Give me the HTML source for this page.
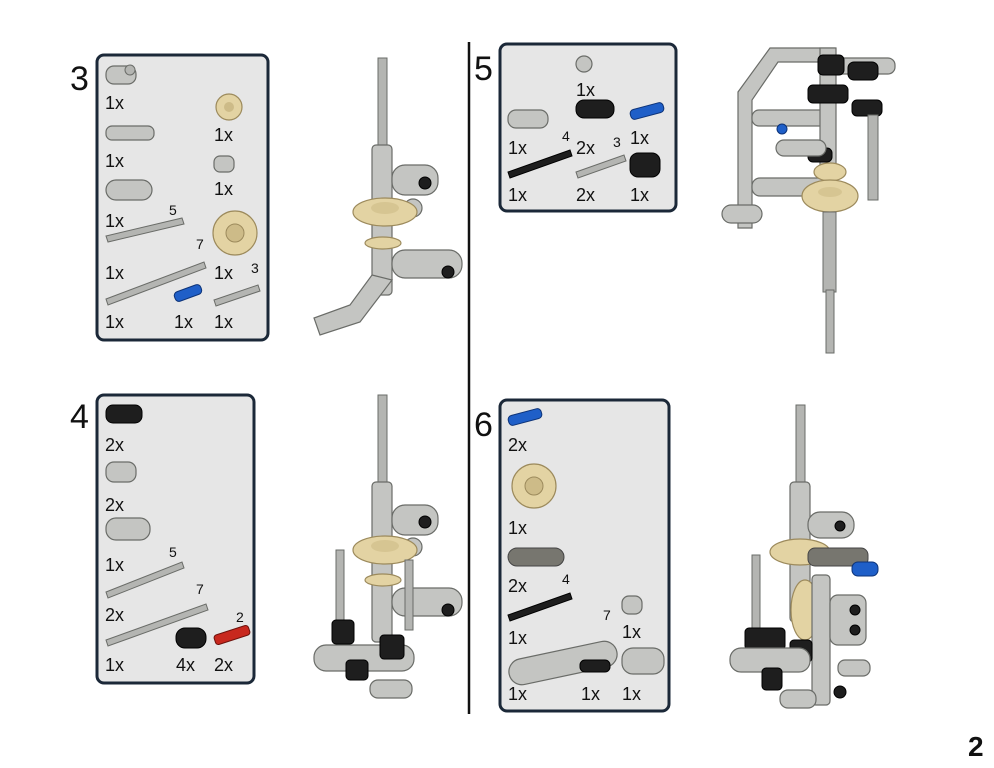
<!DOCTYPE html>
<html><head><meta charset="utf-8"><style>
html,body{margin:0;padding:0;background:#fff;width:994px;height:768px;overflow:hidden}
svg{display:block}
text{font-family:"Liberation Sans",sans-serif;fill:#111}
.q{font-size:18px}
.n{font-size:14px}
.s{font-size:34px}
.g{fill:#c4c5c2;stroke:#6a6c68;stroke-width:1.2}
.a{fill:#b4b5b2;stroke:#6a6c68;stroke-width:1}
.t{fill:#e3d3a3;stroke:#9c8a5c;stroke-width:1.2}
.k{fill:#1e1e1e;stroke:#000;stroke-width:1}
.b{fill:#1f5fc8;stroke:#0d3378;stroke-width:1}
.r{fill:#c8281e;stroke:#6e120c;stroke-width:1}
.box{fill:#e6e6e6;stroke:#1b2838;stroke-width:3}
</style></head><body>
<svg width="994" height="768" viewBox="0 0 994 768">
<!-- boxes -->
<rect class="box" x="97" y="55" width="171" height="285" rx="7"/>
<rect class="box" x="97" y="395" width="157" height="288" rx="7"/>
<rect class="box" x="500" y="44" width="176" height="167" rx="7"/>
<rect class="box" x="500" y="400" width="169" height="311" rx="7"/>
<line x1="469" y1="42" x2="469" y2="714" stroke="#111" stroke-width="2.5"/>

<text class="s" x="70" y="90">3</text>
<text class="s" x="70" y="428">4</text>
<text class="s" x="474" y="80">5</text>
<text class="s" x="474" y="436">6</text>
<text x="968" y="756" style="font-size:28px;font-weight:bold">2</text>

<!-- box 3 parts -->
<rect class="g" x="106" y="66" width="30" height="18" rx="8"/><circle cx="130" cy="70" r="5" class="a"/>
<circle class="t" cx="229" cy="107" r="13"/><circle cx="229" cy="107" r="5" fill="#cdbb88"/>
<rect class="g" x="106" y="126" width="48" height="14" rx="6"/>
<rect class="g" x="214" y="156" width="20" height="16" rx="6"/>
<rect class="g" x="106" y="180" width="46" height="20" rx="10"/>
<polygon class="a" points="106,236 182,218 184,224 108,242"/>
<circle class="t" cx="235" cy="233" r="22"/><circle cx="235" cy="233" r="9" fill="#cdbb88" stroke="#9c8a5c"/>
<polygon class="a" points="106,299 204,262 206,268 108,305"/>
<rect class="b" x="174" y="288" width="28" height="10" rx="4" transform="rotate(-20 188 293)"/>
<polygon class="a" points="214,300 258,285 260,291 216,306"/>
<g class="q">
<text x="105" y="109">1x</text><text x="214" y="141">1x</text>
<text x="105" y="167">1x</text><text x="214" y="195">1x</text>
<text x="105" y="227">1x</text><text x="214" y="279">1x</text>
<text x="105" y="279">1x</text>
<text x="105" y="328">1x</text><text x="174" y="328">1x</text><text x="214" y="328">1x</text>
</g>
<g class="n"><text x="169" y="215">5</text><text x="196" y="249">7</text><text x="251" y="273">3</text></g>

<!-- box 4 parts -->
<rect class="k" x="106" y="405" width="36" height="18" rx="7"/>
<rect class="g" x="106" y="462" width="30" height="20" rx="8"/>
<rect class="g" x="106" y="518" width="44" height="22" rx="10"/>
<polygon class="a" points="106,592 182,562 184,568 108,598"/>
<polygon class="a" points="106,640 206,604 208,610 108,646"/>
<rect class="k" x="176" y="628" width="30" height="20" rx="9"/>
<rect class="r" x="214" y="630" width="36" height="10" rx="3" transform="rotate(-18 232 635)"/>
<g class="q">
<text x="105" y="451">2x</text><text x="105" y="511">2x</text>
<text x="105" y="571">1x</text><text x="105" y="621">2x</text>
<text x="105" y="671">1x</text><text x="176" y="671">4x</text><text x="214" y="671">2x</text>
</g>
<g class="n"><text x="169" y="557">5</text><text x="196" y="594">7</text><text x="236" y="622">2</text></g>

<!-- box 5 parts -->
<circle class="g" cx="584" cy="64" r="8"/>
<rect class="g" x="508" y="110" width="40" height="18" rx="8"/>
<rect class="k" x="576" y="100" width="38" height="18" rx="8"/>
<rect class="b" x="630" y="106" width="34" height="10" rx="4" transform="rotate(-15 647 111)"/>
<polygon class="k" points="508,172 570,150 572,156 510,178"/>
<polygon class="a" points="576,172 624,155 626,161 578,178"/>
<rect class="k" x="630" y="153" width="30" height="24" rx="8"/>
<g class="q">
<text x="576" y="96">1x</text><text x="508" y="154">1x</text><text x="576" y="154">2x</text><text x="630" y="144">1x</text>
<text x="508" y="201">1x</text><text x="576" y="201">2x</text><text x="630" y="201">1x</text>
</g>
<g class="n"><text x="562" y="141">4</text><text x="613" y="147">3</text></g>

<!-- box 6 parts -->
<rect class="b" x="508" y="412" width="34" height="10" rx="4" transform="rotate(-15 525 417)"/>
<circle class="t" cx="534" cy="486" r="22"/><circle cx="534" cy="486" r="9" fill="#cdbb88" stroke="#9c8a5c"/>
<rect x="508" y="548" width="56" height="18" rx="9" fill="#77766f" stroke="#444"/>
<polygon class="k" points="508,615 570,593 572,599 510,621"/>
<rect class="g" x="622" y="596" width="20" height="18" rx="7"/>
<rect class="g" x="508" y="650" width="110" height="26" rx="13" transform="rotate(-12 563 663)"/>
<rect class="k" x="580" y="660" width="30" height="12" rx="5"/>
<rect class="g" x="622" y="648" width="42" height="26" rx="11"/>
<g class="q">
<text x="508" y="451">2x</text><text x="508" y="534">1x</text><text x="508" y="592">2x</text>
<text x="508" y="644">1x</text><text x="622" y="638">1x</text>
<text x="508" y="700">1x</text><text x="581" y="700">1x</text><text x="622" y="700">1x</text>
</g>
<g class="n"><text x="562" y="584">4</text><text x="603" y="620">7</text></g>

<!-- model 3 -->
<rect class="a" x="378" y="58" width="9" height="90"/>
<rect class="g" x="372" y="145" width="20" height="150" rx="4"/>
<rect class="g" x="392" y="165" width="46" height="30" rx="13"/>
<circle class="k" cx="425" cy="183" r="6"/>
<circle class="g" cx="413" cy="208" r="9"/><text x="408" y="213" style="font-size:12px;fill:#1f5fc8;font-weight:bold">+</text>
<ellipse class="t" cx="385" cy="212" rx="32" ry="14"/><ellipse cx="385" cy="208" rx="14" ry="6" fill="#d6c592"/>
<ellipse class="t" cx="383" cy="243" rx="18" ry="6"/>
<rect class="g" x="392" y="250" width="70" height="28" rx="13"/>
<circle class="k" cx="448" cy="272" r="6"/>
<polygon class="g" points="372,275 392,280 360,322 320,335 314,318 350,305"/>

<!-- model 4 -->
<rect class="a" x="378" y="395" width="9" height="90"/>
<rect class="g" x="372" y="482" width="20" height="160" rx="4"/>
<rect class="g" x="392" y="505" width="46" height="30" rx="13"/>
<circle class="k" cx="425" cy="522" r="6"/>
<circle class="g" cx="413" cy="547" r="9"/>
<ellipse class="t" cx="385" cy="550" rx="32" ry="14"/><ellipse cx="385" cy="546" rx="14" ry="6" fill="#d6c592"/>
<ellipse class="t" cx="383" cy="580" rx="18" ry="6"/>
<rect class="g" x="392" y="588" width="70" height="28" rx="13"/>
<circle class="k" cx="448" cy="610" r="6"/>
<rect class="a" x="336" y="550" width="8" height="80"/>
<rect class="a" x="405" y="560" width="8" height="70"/>
<rect class="g" x="314" y="645" width="100" height="26" rx="12"/>
<rect class="k" x="332" y="620" width="22" height="24" rx="4"/>
<rect class="k" x="380" y="635" width="24" height="24" rx="4"/>
<rect class="k" x="346" y="660" width="22" height="20" rx="4"/>
<rect class="g" x="370" y="680" width="42" height="18" rx="8"/>

<!-- model 5 -->
<polygon class="g" points="770,48 835,48 835,62 778,62 752,100 752,228 738,228 738,92"/>
<rect class="g" x="752" y="110" width="80" height="16" rx="7"/>
<rect class="g" x="752" y="178" width="80" height="18" rx="8"/>
<rect class="g" x="722" y="205" width="40" height="18" rx="9"/>
<rect class="g" x="820" y="48" width="16" height="130"/>
<rect class="g" x="835" y="58" width="60" height="16" rx="7"/>
<rect class="k" x="818" y="55" width="26" height="20" rx="5"/>
<rect class="k" x="848" y="62" width="30" height="18" rx="6"/>
<rect class="k" x="808" y="85" width="40" height="18" rx="5"/>
<rect class="k" x="852" y="100" width="30" height="16" rx="5"/>
<rect class="k" x="808" y="148" width="24" height="14" rx="5"/>
<rect class="a" x="868" y="115" width="10" height="85"/>
<circle class="b" cx="782" cy="129" r="5"/>
<rect class="g" x="776" y="140" width="50" height="16" rx="8"/>
<ellipse class="t" cx="830" cy="172" rx="16" ry="9"/>
<ellipse class="t" cx="830" cy="196" rx="28" ry="16"/><ellipse cx="830" cy="192" rx="12" ry="5" fill="#d6c592"/>
<rect class="a" x="823" y="212" width="13" height="80"/>
<rect class="a" x="826" y="290" width="8" height="63"/>

<!-- model 6 -->
<rect class="a" x="796" y="405" width="9" height="80"/>
<rect class="g" x="790" y="482" width="20" height="140" rx="4"/>
<rect class="g" x="808" y="512" width="46" height="26" rx="12"/>
<circle class="k" cx="840" cy="526" r="5"/>
<ellipse class="t" cx="800" cy="552" rx="30" ry="13"/>
<rect x="808" y="548" width="60" height="18" rx="7" fill="#77766f" stroke="#444"/>
<rect class="b" x="852" y="562" width="26" height="14" rx="6"/>
<ellipse class="t" cx="805" cy="610" rx="14" ry="30"/>
<rect class="a" x="752" y="555" width="8" height="80"/>
<rect class="g" x="812" y="575" width="18" height="130" rx="4"/>
<rect class="g" x="830" y="595" width="36" height="50" rx="8"/>
<circle class="k" cx="855" cy="610" r="5"/><circle class="k" cx="855" cy="630" r="5"/>
<rect class="k" x="745" y="628" width="40" height="22" rx="4"/>
<rect class="k" x="790" y="640" width="22" height="22" rx="4"/>
<rect class="g" x="730" y="648" width="80" height="24" rx="11"/>
<rect class="k" x="762" y="668" width="20" height="22" rx="4"/>
<rect class="g" x="780" y="690" width="36" height="18" rx="8"/>
<rect class="g" x="838" y="660" width="32" height="16" rx="7"/>
<circle class="k" cx="840" cy="692" r="6"/>
</svg>
</body></html>
